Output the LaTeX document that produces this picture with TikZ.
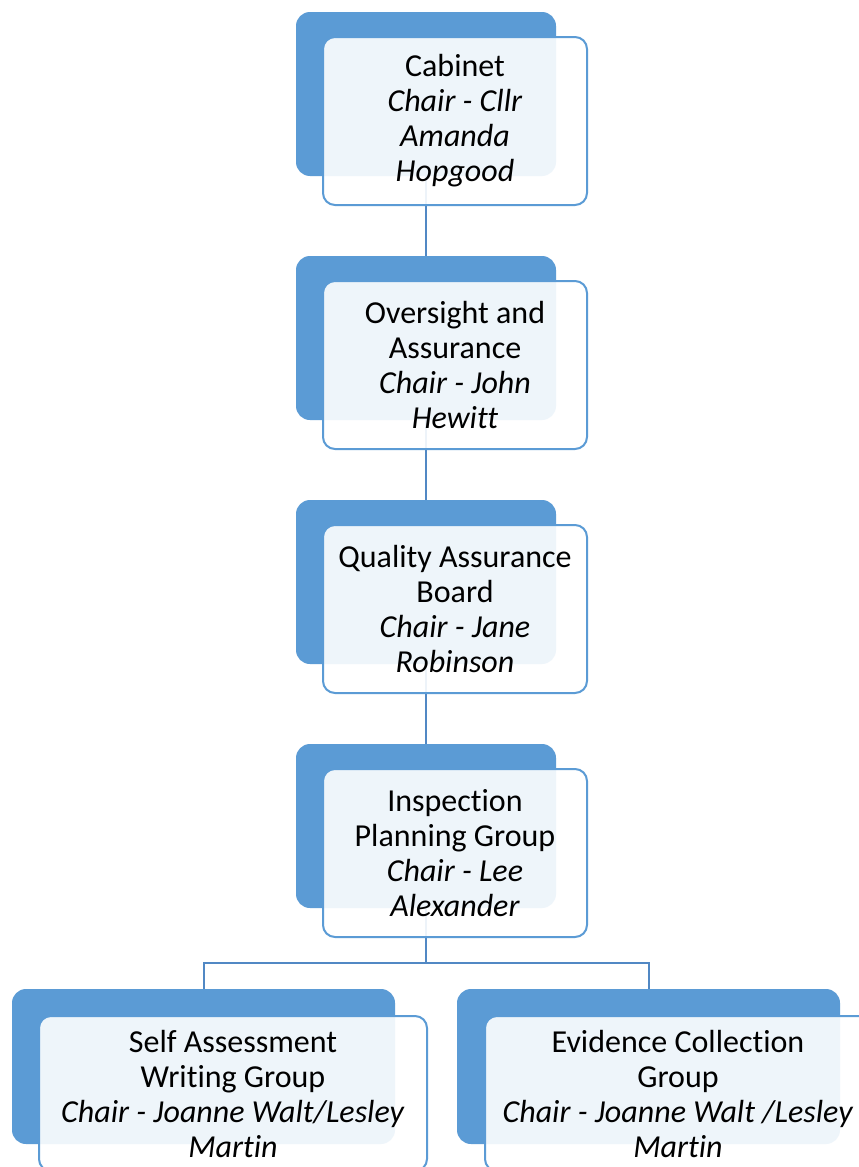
\documentclass[tikz,border=0pt]{standalone}
\usepackage{fontspec}
\setmainfont{Carlito}[Ligatures={NoCommon}]
\usetikzlibrary{backgrounds}
\definecolor{darkbox}{HTML}{5B9BD5}
\definecolor{linkcol}{HTML}{5188C4}
\tikzset{
  back/.style={rectangle, rounded corners=14pt, fill=darkbox, draw=none, minimum width=260pt, minimum height=164pt, inner sep=0pt},
  front/.style={rectangle, rounded corners=12pt, fill=white, fill opacity=0.9, text opacity=1, draw=darkbox, draw opacity=1, line width=2pt, minimum width=264pt, minimum height=168pt, inner sep=0pt, align=center, font=\fontsize{32pt}{35pt}\selectfont},
  link/.style={draw=linkcol, line width=2pt},
}
\begin{document}
\begin{tikzpicture}[x=1pt,y=1pt]
\useasboundingbox (0,0) rectangle (859,-1167);
% top chain
\node[back] (d1) at (426,-94) {};
\node[front] (f1) at (455,-121) {Cabinet\\\textit{Chair - Cllr}\\\textit{Amanda}\\\textit{Hopgood}};
\node[back] (d2) at (426,-338) {};
\node[front] (f2) at (455,-365) {Oversight and\\Assurance\\\textit{Chair - John}\\\textit{Hewitt}};
\node[back] (d3) at (426,-582) {};
\node[front] (f3) at (455,-609) {Quality Assurance\\Board\\\textit{Chair - Jane}\\\textit{Robinson}};
\node[back] (d4) at (426,-826) {};
\node[front] (f4) at (455,-853) {Inspection\\Planning Group\\\textit{Chair - Lee}\\\textit{Alexander}};
% bottom row
\node[back, minimum width=383pt, minimum height=155pt] (d5) at (203.5,-1066.5) {};
\node[front, minimum width=388pt, minimum height=155pt] (f5) at (233,-1093.5) {Self Assessment\\Writing Group\\\textit{Chair - Joanne Walt/Lesley}\\\textit{Martin}};
\node[back, minimum width=383pt, minimum height=155pt] (d6) at (648.5,-1066.5) {};
\node[front, minimum width=386pt, minimum height=155pt] (f6) at (678,-1093.5) {Evidence Collection\\Group\\\textit{Chair - Joanne Walt /Lesley}\\\textit{Martin}};
\coordinate (split) at (426,-963);
\begin{scope}[on background layer]
\fill[white] (0,0) rectangle (859,-1167);
\draw[link] (d1) -- (d2);
\draw[link] (d2) -- (d3);
\draw[link] (d3) -- (d4);
\draw[link] (d4) -- (split);
\draw[link] (split) -| (d5);
\draw[link] (split) -| (d6);
\end{scope}
\end{tikzpicture}
\end{document}
